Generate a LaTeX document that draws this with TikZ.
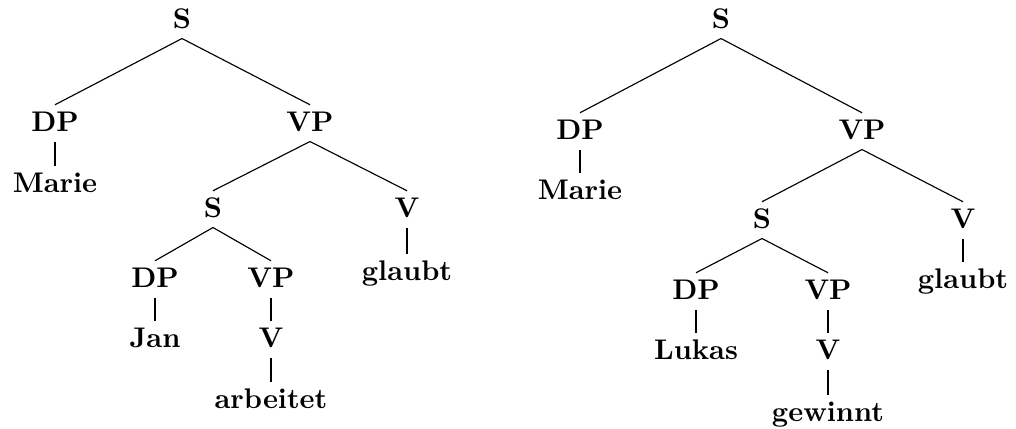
\documentclass[tikz,border=0pt]{standalone}
\begin{document}
\begin{tikzpicture}[x=0.352pt,y=-0.352pt,
  tn/.style={font=\bfseries, anchor=base, inner xsep=1pt, inner ysep=2.1pt, text height=6.94pt, text depth=1.4pt},
  edge/.style={line width=0.4pt}]
\useasboundingbox (0,0) rectangle (1016,428);
% left tree
\node[tn] (aS) at (182,28) {S};
\node[tn] (aDP) at (55,131) {DP};
\node[tn] (aMarie) at (55,192) {Marie};
\node[tn] (aVP) at (310,131) {VP};
\node[tn] (aS2) at (213,217) {S};
\node[tn] (aV) at (407,217) {V};
\node[tn] (aglaubt) at (407,280) {glaubt};
\node[tn] (aDP2) at (155,287) {DP};
\node[tn] (aVP2) at (271,287) {VP};
\node[tn] (aJan) at (155,347) {Jan};
\node[tn] (aV2) at (271,347) {V};
\node[tn] (aarb) at (271,408) {arbeitet};
\draw[edge] (aS.south) -- (aDP.north);
\draw[edge] (aS.south) -- (aVP.north);
\draw[edge] (aDP.south) -- (aMarie.north);
\draw[edge] (aVP.south) -- (aS2.north);
\draw[edge] (aVP.south) -- (aV.north);
\draw[edge] (aV.south) -- (aglaubt.north);
\draw[edge] (aS2.south) -- (aDP2.north);
\draw[edge] (aS2.south) -- (aVP2.north);
\draw[edge] (aDP2.south) -- (aJan.north);
\draw[edge] (aVP2.south) -- (aV2.north);
\draw[edge] (aV2.south) -- (aarb.north);
% right tree
\node[tn] (bS) at (721,28) {S};
\node[tn] (bDP) at (580,139) {DP};
\node[tn] (bMarie) at (580,199) {Marie};
\node[tn] (bVP) at (862,139) {VP};
\node[tn] (bS2) at (762,228) {S};
\node[tn] (bV) at (963,228) {V};
\node[tn] (bglaubt) at (963,288) {glaubt};
\node[tn] (bDP2) at (696,299) {DP};
\node[tn] (bVP2) at (828,299) {VP};
\node[tn] (bLukas) at (696,359) {Lukas};
\node[tn] (bV2) at (828,359) {V};
\node[tn] (bgew) at (828,421) {gewinnt};
\draw[edge] (bS.south) -- (bDP.north);
\draw[edge] (bS.south) -- (bVP.north);
\draw[edge] (bDP.south) -- (bMarie.north);
\draw[edge] (bVP.south) -- (bS2.north);
\draw[edge] (bVP.south) -- (bV.north);
\draw[edge] (bV.south) -- (bglaubt.north);
\draw[edge] (bS2.south) -- (bDP2.north);
\draw[edge] (bS2.south) -- (bVP2.north);
\draw[edge] (bDP2.south) -- (bLukas.north);
\draw[edge] (bVP2.south) -- (bV2.north);
\draw[edge] (bV2.south) -- (bgew.north);
\end{tikzpicture}
\end{document}
